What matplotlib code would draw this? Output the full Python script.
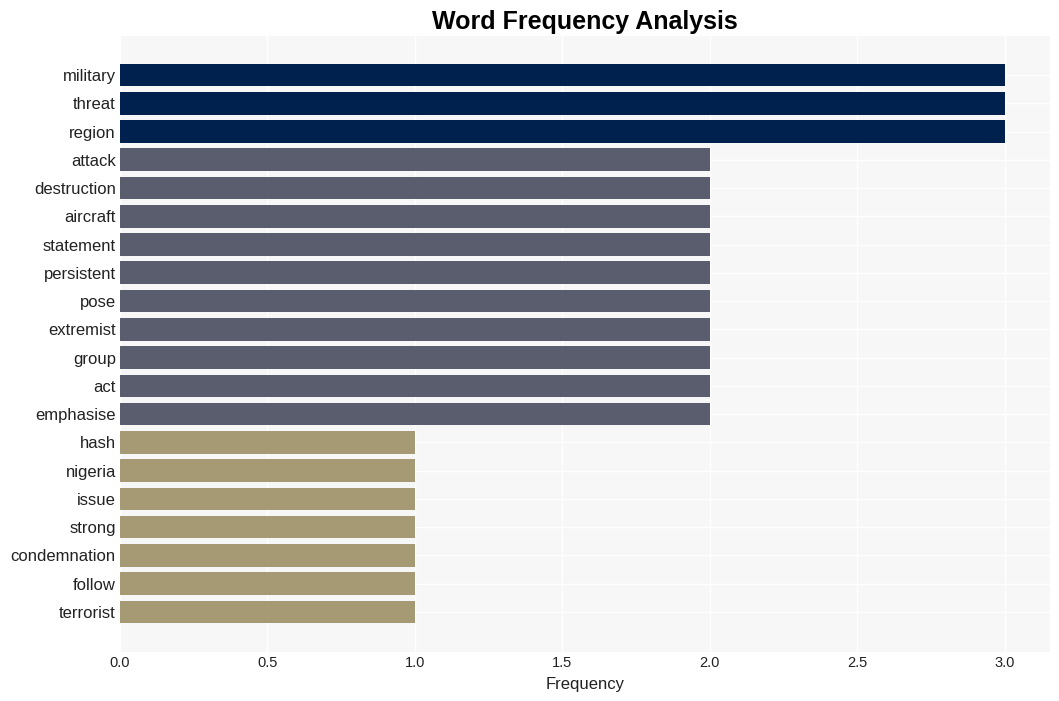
import matplotlib.pyplot as plt

words = ['military', 'threat', 'region', 'attack', 'destruction', 'aircraft',
         'statement', 'persistent', 'pose', 'extremist', 'group', 'act',
         'emphasise', 'hash', 'nigeria', 'issue', 'strong', 'condemnation',
         'follow', 'terrorist']
counts = [3, 3, 3, 2, 2, 2, 2, 2, 2, 2, 2, 2, 2, 1, 1, 1, 1, 1, 1, 1]

palette = {3: '#00204e', 2: '#5a5d6e', 1: '#a59a74'}
colors = [palette[c] for c in counts]

plt.rcParams['font.family'] = ['Liberation Sans', 'DejaVu Sans']

fig = plt.figure(figsize=(10.59, 7.01), dpi=100)
ax = fig.add_axes([120 / 1059, 1 - 652 / 701, 930 / 1059, 616 / 701])
ax.set_facecolor('#f7f7f7')

ax.barh(range(len(words)), counts, color=colors, height=0.8, zorder=2)
ax.set_yticks(range(len(words)))
ax.set_yticklabels(words, fontsize=12, color='#222222')
ax.set_ylim(len(words) - 1 + 1.42, -1.38)
ax.set_xlim(0, 3.153)
ax.set_xticks([0, 0.5, 1.0, 1.5, 2.0, 2.5, 3.0])
ax.tick_params(axis='x', labelsize=10.5, colors='#222222', length=0, pad=3)
ax.tick_params(axis='y', length=0, pad=3)
ax.grid(True, color='white', linewidth=1, zorder=1)
for s in ax.spines.values():
    s.set_visible(False)

ax.set_xlabel('Frequency', fontsize=12, color='#222222', labelpad=5)
ax.set_title('Word Frequency Analysis', fontsize=18, fontweight='bold', pad=5)

fig.savefig('out.png', dpi=100, facecolor='white')
